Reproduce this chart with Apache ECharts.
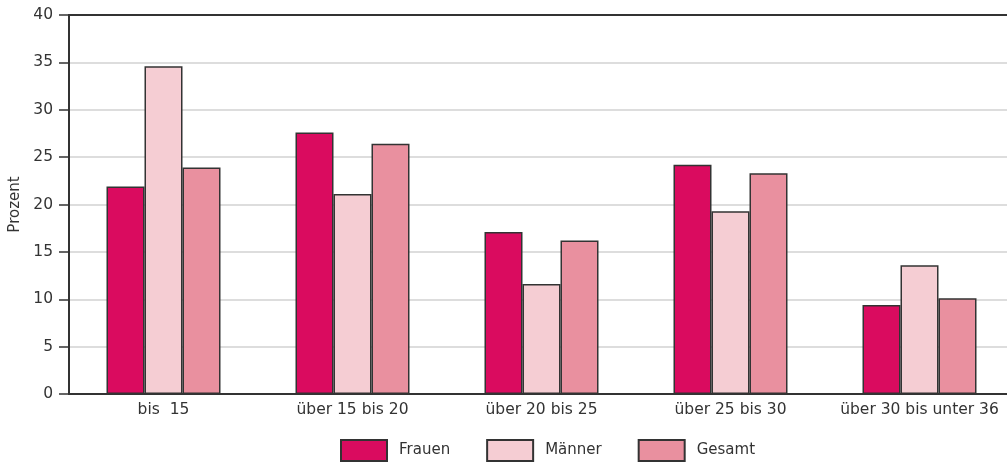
<!DOCTYPE html>
<html>
<head>
<meta charset="utf-8">
<script src="https://cdn.jsdelivr.net/npm/echarts@6/dist/echarts.min.js"></script>
<style>
  html, body { margin: 0; padding: 0; background: #fff; }
  #chart { width: 1007px; height: 462px; }
</style>
</head>
<body>
<div id="chart"></div>
<script>
// Altersgruppen
var categories = ['bis  15', 'über 15 bis 20', 'über 20 bis 25', 'über 25 bis 30', 'über 30 bis unter 36'];
var frauen = [21.9, 27.6, 17.1, 24.2, 9.4];
var maenner = [34.6, 21.1, 11.6, 19.3, 13.6];
var gesamt = [23.9, 26.4, 16.2, 23.3, 10.1];
var seriesNames = ['Frauen', 'Männer', 'Gesamt'];
var colors = ['#da0b5f', '#f5cdd3', '#e9909f'];

var chart = echarts.init(document.getElementById('chart'));
var font = '"DejaVu Sans", sans-serif';

function bar(name, data, color) {
    return {
        name: name,
        type: 'bar',
        data: data,
        barWidth: 38,
        barGap: '0%',
        itemStyle: { color: color, borderColor: '#333', borderWidth: 1.5 }
    };
}

var option = {
    animation: false,
    textStyle: { fontFamily: font },
    grid: {
        left: 69, top: 15, width: 945, height: 379,
        outerBoundsMode: 'none',
        containLabel: false
    },
    legend: {
        data: seriesNames,
        icon: 'rect',
        left: 340,
        top: 439,
        padding: 0,
        itemWidth: 46,
        itemHeight: 21,
        itemGap: 36,
        textStyle: { fontSize: 15, color: '#333', fontFamily: font, padding: [0, 0, 0, 7] }
    },
    xAxis: [{
        type: 'category',
        data: categories,
        axisLine: { lineStyle: { color: '#333', width: 2 } },
        axisTick: { show: false },
        axisLabel: { fontSize: 15.5, color: '#333', margin: 8, interval: 0 }
    }, {
        // obere Rahmenlinie
        type: 'category',
        position: 'top',
        data: categories,
        axisLine: { show: true, lineStyle: { color: '#333', width: 2 } },
        axisTick: { show: false },
        axisLabel: { show: false },
        splitLine: { show: false }
    }],
    yAxis: {
        type: 'value',
        min: 0, max: 40, interval: 5,
        name: 'Prozent',
        nameLocation: 'middle',
        nameGap: 38,
        nameTextStyle: { fontSize: 15, color: '#333' },
        axisLine: { show: true, lineStyle: { color: '#333', width: 2 } },
        axisTick: { show: true, length: 10, lineStyle: { color: '#333', width: 1.5 } },
        axisLabel: { fontSize: 15.5, color: '#333', margin: 16 },
        splitLine: { lineStyle: { color: '#d2d2d2', width: 1.5 } }
    },
    series: [
        bar(seriesNames[0], frauen, colors[0]),
        bar(seriesNames[1], maenner, colors[1]),
        bar(seriesNames[2], gesamt, colors[2])
    ]
};
chart.setOption(option);
</script>
</body>
</html>
